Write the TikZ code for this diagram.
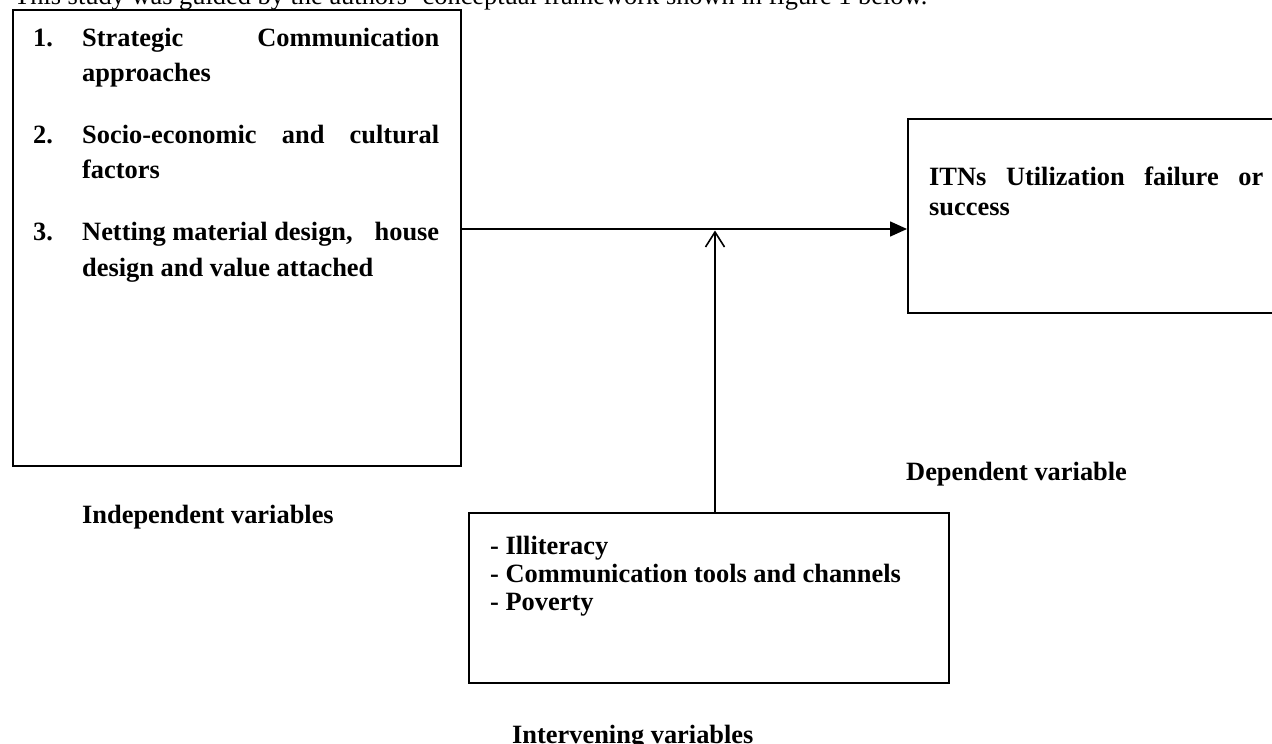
\documentclass[tikz,border=0pt]{standalone}
\usepackage{fontspec}
\setmainfont{Liberation Serif}
\usetikzlibrary{arrows.meta}
\tikzset{
  box/.style={draw=black, line width=2pt, inner sep=0pt, fill=none},
  conn/.style={draw=black, line width=1.6pt},
  txt/.style={inner sep=0pt, anchor=base west, font=\fontsize{26.4}{30}\selectfont\bfseries},
}
\begin{document}
\begin{tikzpicture}[x=1pt, y=-1pt]
\useasboundingbox (0,0) rectangle (1272,744);
\clip (0,0) rectangle (1272,744);
% intro sentence (clipped at top)
\node[inner sep=0pt, anchor=base west, font=\fontsize{26.4}{30}\selectfont] (intro) at (14,5)
  {This study was guided by the authors’ conceptual framework shown in figure 1 below.};
% boxes
\node[box, minimum width=448pt, minimum height=456pt] (indep) at (237,238) {};
\node[box, minimum width=400pt, minimum height=194pt] (dep) at (1108,216) {};
\node[box, minimum width=480pt, minimum height=170pt] (inter) at (709,598) {};
% left box content
\node[txt] (n1) at (33,46) {1.};
\node[txt] (t1) at (82,46) {\parbox[t]{357pt}{\baselineskip=35pt
  \hbox to 357pt{Strategic\hfill Communication}\par approaches}};
\node[txt] (n2) at (33,143) {2.};
\node[txt] (t2) at (82,143) {\parbox[t]{357pt}{\baselineskip=35pt
  \hbox to 357pt{Socio-economic\hfill and\hfill cultural}\par factors}};
\node[txt] (n3) at (33,240) {3.};
\node[txt] (t3) at (82,240) {\parbox[t]{357pt}{\baselineskip=36pt
  \hbox to 357pt{Netting material design,\hfill house}\par design and value attached}};
% right box content
\node[txt] (td) at (929,185) {\parbox[t]{334pt}{\baselineskip=30pt
  \hbox to 334pt{ITNs\hfill Utilization\hfill failure\hfill or}\par success}};
% bottom box content
\node[txt] (ti) at (490,554) {\parbox[t]{440pt}{\baselineskip=28pt
  - Illiteracy\par - Communication tools and channels\par - Poverty}};
% labels
\node[txt] (lindep) at (82,523) {Independent variables};
\node[txt] (ldep) at (906,480) {Dependent variable};
\node[txt] (linter) at (512,743) {Intervening variables};
% connectors
\coordinate (hstart) at (indep.east |- 0,229);
\coordinate (vtip) at (715,230.5);
\draw[conn, -{Triangle[length=17pt,width=15pt]}] (hstart) -- (dep.west |- hstart);
\draw[conn, -{Straight Barb[length=15pt,width=19pt,line width=1.6pt]}] (inter.north -| vtip) -- (vtip);
\end{tikzpicture}
\end{document}
